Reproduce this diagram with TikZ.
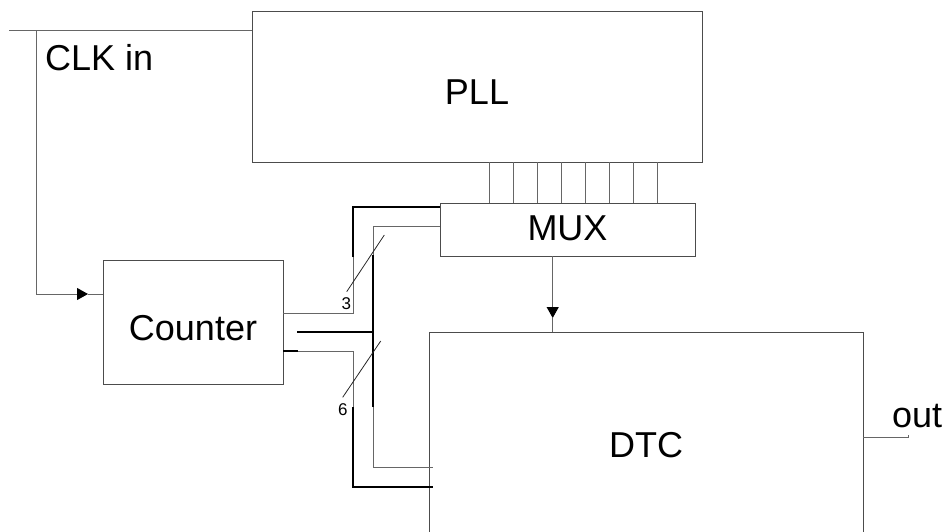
\documentclass[tikz,border=0pt]{standalone}
\usepackage{fontspec}
\setmainfont{Liberation Sans}
\usetikzlibrary{arrows.meta}
\begin{document}
\begin{tikzpicture}[x=1pt,y=-1pt,
  box/.style={draw=black!70, line width=1pt, inner sep=0pt, outer sep=0pt,
    font=\fontsize{36}{40}\selectfont, text height=36pt, text depth=0pt, anchor=north west},
  wire/.style={draw=black!60, line width=1pt},
  bus/.style={draw=black, line width=2.6pt, line join=miter},
  slash/.style={draw=black!85, line width=0.8pt},
  big/.style={font=\fontsize{36}{40}\selectfont, inner sep=0pt},
  small/.style={font=\fontsize{17}{20}\selectfont, inner sep=0pt},
  tri/.style={-{Triangle[length=11pt,width=12pt,color=black]}}
]
\useasboundingbox (0,0) rectangle (949,531);
\clip (0,0) rectangle (949,531);

% blocks
\node[box, minimum width=450pt, minimum height=151pt] (pll) at (252,11) {PLL};
\node[box, minimum width=180pt, minimum height=124pt] (cnt) at (103,260) {Counter};
\node[box, minimum width=255pt, minimum height=53pt, text height=28pt, text depth=7pt] (mux) at (440,203) {MUX};
\node[box, minimum width=434pt, minimum height=214pt] (dtc) at (429,332) {DTC};

% labels
\node[big, anchor=base west] (clk) at (45,70) {CLK in};
\node[big, anchor=base west] (outl) at (892,427) {out};

% clock input
\coordinate (clkin) at (9,30);
\coordinate (clkj) at (36,30);
\coordinate (clka) at (88,294);
\coordinate (cntin) at (103,294);
\draw[wire] (clkin) -- (clkin -| pll.west);
\draw[wire, tri] (clkj) |- (clka);
\draw[wire] (clka) -- (cntin);

% PLL to MUX
\foreach \i in {0,...,7}{
  \coordinate (pt\i) at ({489+24*\i},162);
  \coordinate (mt\i) at ({489+24*\i},203);
  \draw[wire] (pt\i) -- (mt\i);
}

% MUX to DTC
\coordinate (mo) at (552.7,256);
\coordinate (ma) at (552.7,318);
\coordinate (di) at (552.7,332);
\draw[wire, tri] (mo) -- (ma);
\draw[wire] (ma) -- (di);

% counter outputs / buses
\coordinate (co1) at (283,313);
\coordinate (co2) at (297,332);
\coordinate (co3) at (283,351);
\coordinate (co3b) at (298,351);
\coordinate (mi1) at (440,207);
\coordinate (mi2) at (440,226);
\coordinate (a1) at (353,313);
\coordinate (a2) at (353,257);
\coordinate (a3) at (353,207);
\coordinate (b1) at (373,226);
\coordinate (b2) at (373,255);
\coordinate (b3) at (373,407);
\coordinate (b4) at (373,467);
\coordinate (b5) at (373,332);
\coordinate (c1) at (353,351);
\coordinate (c2) at (353,407);
\coordinate (c3) at (353,487);
\coordinate (di1) at (433,467);
\coordinate (di2) at (433,487);

\draw[wire] (co1) -- (a1) -- (a2);
\draw[bus] (a2) -- (a3) -- (mi1);
\draw[wire] (mi2) -- (b1) -- (b2);
\draw[bus] (b2) -- (b3);
\draw[wire] (b3) -- (b4) -- (di1);
\draw[bus] (co2) -- (b5);
\draw[bus] (co3) -- (co3b);
\draw[wire] (co3b) -- (c1) -- (c2);
\draw[bus] (c2) -- (c3) -- (di2);

% bus width marks
\coordinate (s1a) at (346.7,291.7);
\coordinate (s1b) at (384.3,235);
\coordinate (s2a) at (342.7,397.3);
\coordinate (s2b) at (380.7,341);
\draw[slash] (s1a) -- (s1b);
\draw[slash] (s2a) -- (s2b);
\node[small, anchor=base] (n3) at (346.3,309.3) {3};
\node[small, anchor=base] (n6) at (342.8,415) {6};

% output
\coordinate (o1) at (863,437);
\coordinate (o2) at (908,437);
\coordinate (o3) at (908,434.5);
\draw[wire] (o1) -- (o2) -- (o3);
\end{tikzpicture}
\end{document}
